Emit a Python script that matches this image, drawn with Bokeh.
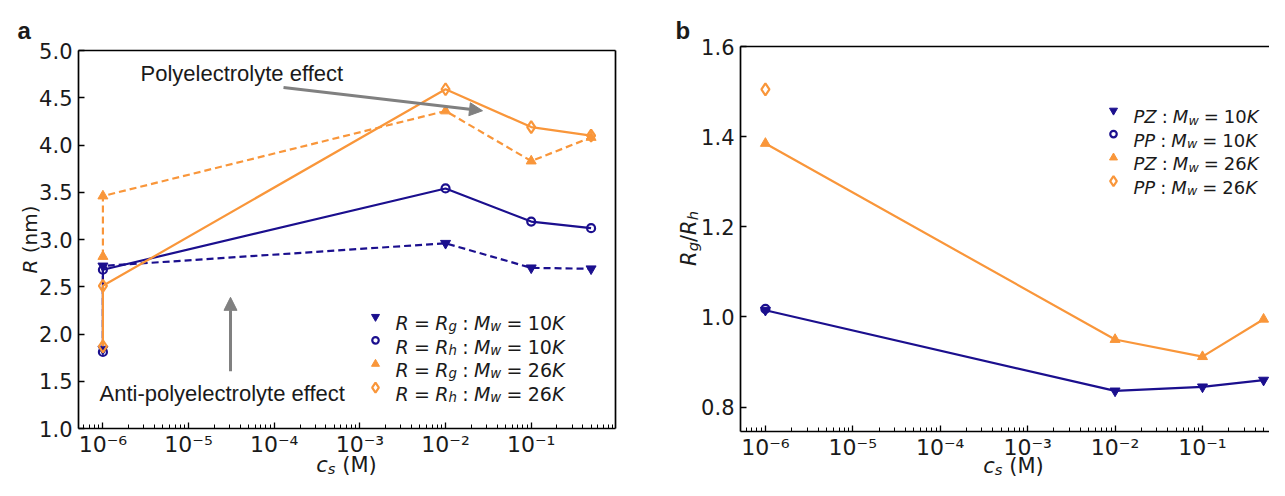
import math
from bokeh.plotting import figure
from bokeh.layouts import row
from bokeh.models import (Range1d, FixedTicker, CustomJSTickFormatter, Label, Arrow,
                          NormalHead, LogAxis, LinearAxis)
from bokeh.embed import file_html
from bokeh.resources import INLINE

# ---------------- data ----------------
# panel a : radii (nm) vs salt concentration c_s (M)
cs_a = [1e-6, 1e-6, 1e-2, 1e-1, 0.5]
rg_10k = [1.84, 2.72, 2.96, 2.70, 2.69]
rh_10k = [1.81, 2.68, 3.54, 3.19, 3.12]
rg_26k = [2.82, 3.46, 4.36, 3.83, 4.08]
rh_26k = [1.87, 2.51, 4.59, 4.19, 4.10]

# panel b : Rg/Rh ratio
cs_pz = [1e-6, 1e-2, 1e-1, 0.5]
pz_10k = [1.015, 0.836, 0.845, 0.860]
pz_26k = [1.385, 0.950, 0.912, 0.995]
cs_pp = [1e-6]
pp_10k = [1.018]
pp_26k = [1.505]

x_major = [1e-6, 1e-5, 1e-4, 1e-3, 1e-2, 1e-1]
ya_ticks = [1.0, 1.5, 2.0, 2.5, 3.0, 3.5, 4.0, 4.5, 5.0]
yb_ticks = [0.8, 1.0, 1.2, 1.4, 1.6]

NAVY = "#1b0f8e"
ORANGE = "#f9963a"
GRAY = "#808080"
TXT = "#1a1a1a"

# ---------------- layout helpers ----------------
class Panel:
    """Bokeh frame fills the whole canvas; the drawn plot box is placed by hand.
    ref: plot box as measured on the reference, act: plot box on the canvas."""
    def __init__(self, cx, cw, ch, ref, act, lx0, rlx1, alx1, y0, y1):
        self.cx, self.cw, self.ch = cx, cw, ch
        self.ref, self.act = ref, act
        self.lx0, self.rlx1, self.alx1, self.y0, self.y1 = lx0, rlx1, alx1, y0, y1

    def _map(self, box, lx1, px, py):
        fl, ft, fw, fh = box
        lx = self.lx0 + (px - fl) / fw * (lx1 - self.lx0)
        y = self.y1 - (py - ft) / fh * (self.y1 - self.y0)
        return 10 ** lx, y

    def d_ref(self, px, py):
        return self._map(self.ref, self.rlx1, px, py)

    def d(self, px, py):
        return self._map(self.act, self.alx1, px, py)

    def ranges(self):
        xa, yb = self.d(self.cx, 0)
        xb, ya = self.d(self.cx + self.cw, self.ch)
        return Range1d(xa, xb), Range1d(ya, yb)

WA, WB, H = 652, 617, 480
PA = Panel(0, WA, H, (78, 52, 537, 389), (78, 50, 537, 378),
           -6.285, -0.016, -0.016, 1.0, 5.0)
PB = Panel(WA, WB, H, (740, 48, 548, 397), (740, 46, 529, 385),
           -6.285, -0.016, -6.285 + 529 / 548 * 6.269, 0.746, 1.6)

ADV = {" ": .318, "(": .390, ")": .390, "R": .695, "M": .863, "K": .656, "P": .603,
       "Z": .686, "g": .635, "h": .634, "w": .818, "s": .521, "c": .550, "n": .634,
       "m": .974, "=": .838, ":": .337, "/": .337, "0": .636, "1": .636, "2": .636,
       "6": .636}

def tw(s, size):
    return sum(ADV.get(ch, 0.6) for ch in s) * size

def mtext(p, P, segs, px, py, size, align="left", angle=0.0, ref=False):
    """segs: (text, italic, subscript, gap_before_em, gap_after_em)"""
    fmap = P.d_ref if ref else P.d
    pieces, total = [], 0.0
    for t, it, sub, g0, g1 in segs:
        s = size * 0.7 if sub else size
        total += g0 * size
        pieces.append((total, t, it, sub, s))
        total += tw(t, s) + g1 * size
    start = -total / 2 if align == "center" else 0.0
    for off, t, it, sub, s in pieces:
        o = start + off
        shift = 0.2 * size if sub else 0.0
        if angle == 0:
            x, y = px + o, py + shift
        else:
            x, y = px + shift, py - o
        dx, dy = fmap(x, y)
        p.add_layout(Label(x=dx, y=dy, text=t, text_font="DejaVu Sans",
                           text_font_size=f"{s:.1f}px",
                           text_font_style="italic" if it else "normal",
                           text_align="left", text_baseline="alphabetic",
                           angle=angle, text_color=TXT))

def txt(p, P, text, px, py, size, font="Liberation Sans", style="normal", ref=False):
    dx, dy = (P.d_ref if ref else P.d)(px, py)
    p.add_layout(Label(x=dx, y=dy, text=text, text_font=font, text_font_size=f"{size}px",
                       text_font_style=style, text_align="left",
                       text_baseline="alphabetic", text_color=TXT))

def minor_list(lo, hi):
    out = []
    for n in range(-8, 1):
        for k in range(2, 10):
            v = k * 10.0 ** n
            if lo < v < hi:
                out.append(v)
    return out

XFMT = CustomJSTickFormatter(code="""
const e = Math.round(Math.log10(tick));
const m = {"-":"⁻","0":"⁰","1":"¹","2":"²","3":"³","4":"⁴","5":"⁵","6":"⁶","7":"⁷","8":"⁸","9":"⁹"};
return "10" + String(e).split("").map(c => m[c]).join("");
""")
YFMT = CustomJSTickFormatter(code="return tick.toFixed(1);")

def style(ax):
    ax.axis_line_width = 1.7
    ax.axis_line_color = "black"
    ax.major_tick_in = 6
    ax.major_tick_out = 0
    ax.minor_tick_in = 4
    ax.minor_tick_out = 0
    ax.major_tick_line_width = 1.3
    ax.minor_tick_line_width = 1.0
    ax.major_tick_line_color = "black"
    ax.minor_tick_line_color = "black"
    ax.major_label_text_font = "DejaVu Sans"
    ax.major_label_text_font_size = "21px"
    ax.major_label_text_color = TXT

def spine(cls, loc, bounds):
    ax = cls(fixed_location=loc, bounds=bounds, ticker=FixedTicker(ticks=[]))
    ax.axis_line_width = 1.7
    ax.axis_line_color = "black"
    ax.major_tick_line_color = None
    ax.minor_tick_line_color = None
    return ax

def make_fig(P, w, yticks, box_right):
    xr, yr = P.ranges()
    p = figure(width=w, height=H, x_axis_type="log", x_range=xr, y_range=yr,
               x_axis_location=None, y_axis_location=None,
               output_backend="svg", toolbar_location=None,
               min_border_left=0, min_border_right=0, min_border_top=0, min_border_bottom=0)
    p.outline_line_color = None
    p.grid.visible = False
    lo, hi = 10 ** P.lx0, 10 ** P.alx1
    xa = LogAxis(fixed_location=P.y0, bounds=(lo, hi),
                 ticker=FixedTicker(ticks=x_major, minor_ticks=minor_list(lo, hi)),
                 formatter=XFMT)
    style(xa)
    xa.major_label_text_font_size = "22px"
    xa.major_label_standoff = 3
    ya = LinearAxis(fixed_location=lo, bounds=(P.y0, P.y1),
                    ticker=FixedTicker(ticks=yticks), formatter=YFMT)
    style(ya)
    ya.minor_tick_line_color = None
    ya.major_label_standoff = 6
    p.add_layout(xa, "below")
    p.add_layout(ya, "left")
    p.add_layout(spine(LogAxis, P.y1, (lo, hi)), "above")
    if box_right:
        p.add_layout(spine(LinearAxis, hi, (P.y0, P.y1)), "right")
    return p

def arrow(p, P, x0, y0, x1, y1):
    xs, ys = P.d_ref(x0, y0)
    xe, ye = P.d_ref(x1, y1)
    p.add_layout(Arrow(end=NormalHead(size=13, fill_color=GRAY, line_color=GRAY),
                       x_start=xs, y_start=ys, x_end=xe, y_end=ye,
                       line_color=GRAY, line_width=3))

G = 0.28
def label_segs(a, sub1, b):
    return [(a, 1, 0, 0, 0), ("=", 0, 0, G, G), ("R", 1, 0, 0, 0), (sub1, 1, 1, 0, 0),
            (":", 0, 0, G, G), ("M", 1, 0, 0, 0), ("w", 1, 1, 0, 0), ("=", 0, 0, G, G),
            (b, 0, 0, 0, 0), ("K", 1, 0, 0, 0)]

def label_segs_b(a, b):
    return [(a, 1, 0, 0, 0), (":", 0, 0, G, G), ("M", 1, 0, 0, 0), ("w", 1, 1, 0, 0),
            ("=", 0, 0, G, G), (b, 0, 0, 0, 0), ("K", 1, 0, 0, 0)]

def legend(p, P, items, mx, tx, y0, dy, size):
    for i, (mk, col, filled, segs) in enumerate(items):
        cy = y0 + i * dy
        x, y = P.d_ref(mx, cy)
        sz = {"inverted_triangle": 8, "triangle": 8, "circle": 6.5, "diamond": 10}[mk]
        if filled:
            p.scatter([x], [y], marker=mk, size=sz, color=col)
        else:
            p.scatter([x], [y], marker=mk, size=sz, line_color=col, fill_alpha=0, line_width=2.2)
        mtext(p, P, [(t, bool(a), bool(b), g0, g1) for t, a, b, g0, g1 in segs],
              tx, cy + 6.5, size, ref=True)

# ---------------- panel a ----------------
pa = make_fig(PA, WA, ya_ticks, True)

LW = 2.2
pa.line(cs_a, rg_10k, color=NAVY, line_width=LW, line_dash="7 4")
pa.scatter(cs_a, rg_10k, marker="inverted_triangle", size=10, color=NAVY)
pa.line(cs_a, rh_10k, color=NAVY, line_width=LW)
pa.scatter(cs_a, rh_10k, marker="circle", size=8, line_color=NAVY, fill_alpha=0, line_width=2.2)
pa.line(cs_a, rg_26k, color=ORANGE, line_width=LW, line_dash="7 4")
pa.scatter(cs_a, rg_26k, marker="triangle", size=10, color=ORANGE)
pa.line(cs_a, rh_26k, color=ORANGE, line_width=LW)
pa.scatter(cs_a, rh_26k, marker="diamond", size=12, line_color=ORANGE, fill_alpha=0, line_width=2.2)

arrow(pa, PA, 283, 90, 482, 114)
arrow(pa, PA, 230, 382, 230, 306)
txt(pa, PA, "Polyelectrolyte effect", 140, 76, 22, ref=True)
txt(pa, PA, "Anti-polyelectrolyte effect", 99, 405, 22, ref=True)
txt(pa, PA, "a", 17, 30, 24, style="bold")

leg_a = [
    ("inverted_triangle", NAVY, True, label_segs("R", "g", "10")),
    ("circle", NAVY, False, label_segs("R", "h", "10")),
    ("triangle", ORANGE, True, label_segs("R", "g", "26")),
    ("diamond", ORANGE, False, label_segs("R", "h", "26")),
]
legend(pa, PA, leg_a, 375, 395, 326, 24.3, 19)

mtext(pa, PA, [("R", True, False, 0, 0), ("(nm)", False, False, 0.318, 0)],
      29, 239, 20, align="center", angle=math.pi / 2)
mtext(pa, PA, [("c", True, False, 0, 0), ("s", True, True, 0, 0), ("(M)", False, False, 0.318, 0)],
      346, 464, 21, align="center")

# ---------------- panel b ----------------
pb = make_fig(PB, WB, yb_ticks, False)

pb.line(cs_pz, pz_10k, color=NAVY, line_width=LW)
pb.scatter(cs_pz, pz_10k, marker="inverted_triangle", size=10, color=NAVY)
pb.scatter(cs_pp, pp_10k, marker="circle", size=8, line_color=NAVY, fill_alpha=0, line_width=2.2)
pb.line(cs_pz, pz_26k, color=ORANGE, line_width=LW)
pb.scatter(cs_pz, pz_26k, marker="triangle", size=10, color=ORANGE)
pb.scatter(cs_pp, pp_26k, marker="diamond", size=12, line_color=ORANGE, fill_alpha=0, line_width=2.2)

txt(pb, PB, "b", 675, 30, 24, style="bold")

leg_b = [
    ("inverted_triangle", NAVY, True, label_segs_b("PZ", "10")),
    ("circle", NAVY, False, label_segs_b("PP", "10")),
    ("triangle", ORANGE, True, label_segs_b("PZ", "26")),
    ("diamond", ORANGE, False, label_segs_b("PP", "26")),
]
legend(pb, PB, leg_b, 1113, 1133, 114, 24.3, 18)

mtext(pb, PB, [("R", True, False, 0, 0), ("g", True, True, 0, 0), ("/", False, False, 0, 0),
               ("R", True, False, 0, 0), ("h", True, True, 0, 0)],
      688, 238, 21, align="center", angle=math.pi / 2)
mtext(pb, PB, [("c", True, False, 0, 0), ("s", True, True, 0, 0), ("(M)", False, False, 0.318, 0)],
      1013, 465, 21, align="center")

layout = row(pa, pb)
open("out.html", "w").write(file_html(layout, INLINE))
